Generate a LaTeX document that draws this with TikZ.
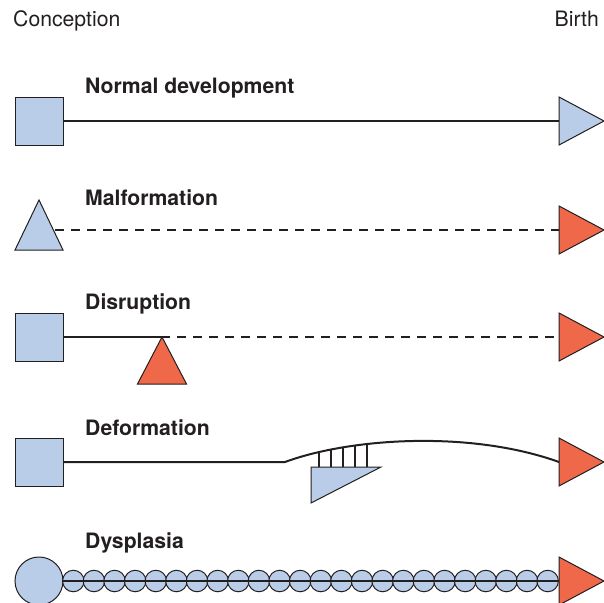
\documentclass[tikz,border=0pt]{standalone}
\usepackage{fontspec}
\setmainfont{TeX Gyre Heros}
\usepackage{tikz}
\usetikzlibrary{positioning, shapes.geometric, backgrounds}
\definecolor{cellblue}{RGB}{185,205,232}
\definecolor{hitred}{RGB}{240,104,74}
\definecolor{ink}{RGB}{35,31,32}
\tikzset{
    stage/.style={font=\fontsize{21.2}{25}\selectfont, text=ink, inner sep=0pt},
    title/.style={stage, font=\fontsize{21.2}{25}\selectfont\bfseries},
    box/.style={draw=ink, fill=cellblue, line width=1pt, minimum size=48pt, inner sep=0pt, outer sep=0pt},
    tri/.style={isosceles triangle, isosceles triangle stretches, draw=ink, line width=1pt, inner sep=0pt, outer sep=0pt},
    birth/.style={tri, minimum height=45pt, minimum width=48pt, anchor=lower side},
    uptri/.style={tri, shape border rotate=90, anchor=lower side},
    bead/.style={circle, draw=ink, fill=cellblue, line width=1pt, minimum size=21.5pt, inner sep=0pt, outer sep=0pt},
    mainline/.style={draw=ink, line width=2pt},
    dashline/.style={mainline, dash pattern=on 9pt off 7pt}
}
\begin{document}
\begin{tikzpicture}[x=1pt, y=-1pt]
    \useasboundingbox (0,0) rectangle (604,602);
    % time axis
    \node[stage, anchor=base west] (conception) at (13,27) {Conception};
    \node[stage, anchor=base east] (birthlabel) at (599,27) {Birth};

    % Normal development
    \node[title, anchor=base west] (normal) at (85,93) {Normal development};
    \node[box] (start1) at (39,121) {};
    \node[birth, fill=cellblue] (end1) at (559,121) {};
    \draw[mainline] (start1.east) -- (end1.lower side);

    % Malformation
    \node[title, anchor=base west] (malform) at (85,205) {Malformation};
    \node[uptri, fill=cellblue, minimum height=50pt, minimum width=48pt] (start2) at (39,250) {};
    \node[birth, fill=hitred] (end2) at (559,230) {};
    \begin{pgfonlayer}{background}
        \draw[dashline] (start2.apex |- end2.lower side) -- (end2.lower side);
    \end{pgfonlayer}

    % Disruption
    \node[title, anchor=base west] (disrupt) at (85,309) {Disruption};
    \node[box] (start3) at (39,337) {};
    \node[uptri, fill=hitred, minimum height=47pt, minimum width=49pt] (hit) at (162,384) {};
    \node[birth, fill=hitred] (end3) at (559,337) {};
    \draw[mainline] (start3.east) -- ([xshift=8pt]hit.apex);
    \draw[dashline] ([xshift=15pt]hit.apex) -- (end3.lower side);

    % Deformation
    \node[title, anchor=base west] (deform) at (85,435) {Deformation};
    \node[box] (start4) at (39,462) {};
    \node[birth, fill=hitred] (end4) at (559,462) {};
    \coordinate (bend) at (285,462);
    \draw[mainline] (start4.east) -- (bend) .. controls (350,438) and (470,430) .. (end4.lower side);
    \begin{scope}
        \clip (bend) .. controls (350,438) and (470,430) .. (end4.lower side) -- (559,470) -- (285,470) -- cycle;
        \foreach \x in {319,331,343,355,367}
            \draw[ink, line width=1.5pt] (\x,468) -- (\x,430);
    \end{scope}
    \draw[draw=ink, fill=cellblue, line width=1pt] (311,467) -- (381,467) -- (311,503) -- cycle;

    % Dysplasia
    \node[title, anchor=base west] (dysplasia) at (85,548) {Dysplasia};
    \node[box, circle] (zygote) at (39,581) {};
    \foreach \i in {0,...,23}
        \node[bead] (b\i) at ({73.3+20.625*\i},581) {};
    \node[birth, fill=hitred] (end5) at (559,581) {};
    \draw[mainline] (zygote.east) -- (end5.lower side);
\end{tikzpicture}
\end{document}
